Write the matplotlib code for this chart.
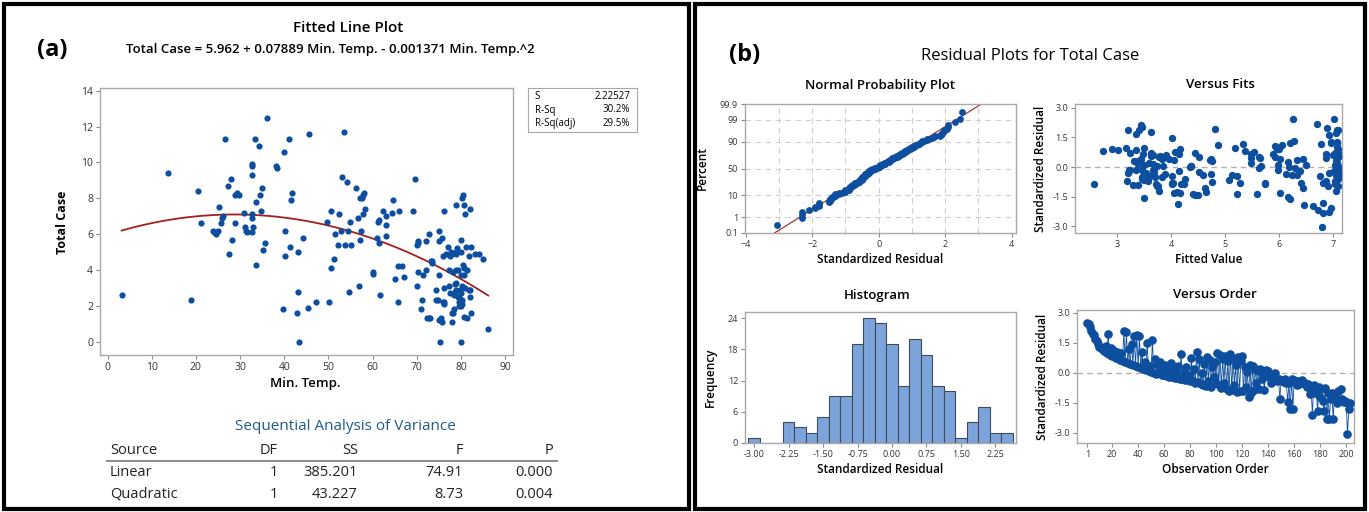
import math
import numpy as np
import matplotlib.pyplot as plt
from matplotlib.patches import Rectangle

plt.rcParams['font.family'] = ['Open Sans', 'DejaVu Sans']

W, H = 1369, 512

# fitted model (from the chart)
B0, B1, B2 = 5.962, 0.07889, -0.001371
S_VAL = 2.22527

# scatter data: Min. Temp. vs Total Case
min_temp = [
    3.2, 13.7, 18.9, 20.4, 21.2, 23.8, 24.2, 24.6, 25.0, 25.2, 25.6, 25.9, 26.2, 26.5, 27.2,
    27.5, 27.9, 28.1, 28.8, 28.9, 29.4, 29.8, 31.0, 31.2, 31.3, 31.5, 32.6, 32.8, 32.7, 32.8,
    32.8, 32.9, 32.7, 33.3, 33.6, 33.6, 34.3, 34.6, 34.9, 34.8, 35.3, 35.6, 36.2, 38.2, 38.4,
    39.9, 40.1, 40.2, 39.8, 41.0, 41.3, 41.6, 41.8, 43.1, 43.0, 43.1, 43.3, 44.3,
    45.3, 45.6, 47.1, 49.6, 50.2, 50.5, 50.6, 51.2, 51.4, 52.2, 52.4, 52.9, 53.1, 53.5, 53.7,
    54.3, 54.5, 54.7, 54.9, 55.2, 56.3, 56.8, 56.9, 57.1, 57.2, 57.3, 57.6, 57.8, 58.0, 57.9,
    58.4, 60.1, 60.1, 61.0, 61.2, 61.4, 61.4, 61.8, 62.4, 63.0, 63.0, 63.0, 64.3, 64.6, 65.1,
    65.8, 66.1, 65.8, 66.7, 67.2, 69.1, 69.6,
    70.1, 70.2, 70.2, 70.0, 71.0, 71.2, 71.5, 72.1, 72.2, 72.3, 72.7, 73.1, 72.8, 73.3, 73.5,
    74.3, 74.8, 75.0, 75.1, 75.1, 75.3, 75.0, 75.4, 75.8, 75.7, 75.9, 76.1, 76.2, 76.2, 76.2,
    76.6, 77.0, 77.2, 77.4, 77.8, 78.0, 78.2, 78.4, 78.5, 78.7, 78.8, 78.6, 78.8, 79.0, 79.1,
    79.3, 79.5, 79.6, 79.5, 79.7, 80.0, 80.0, 80.2, 80.4, 80.1, 80.3, 80.3, 80.3, 80.6, 80.8,
    80.8, 81.0, 81.1, 81.3, 81.4, 81.8, 82.0, 82.1, 82.2, 82.3, 82.1, 83.3, 84.0, 85.1, 86.2,
    77.5, 78.0, 78.8, 79.0, 80.4, 78.2, 78.8, 80.0, 81.8, 77.5, 79.4, 80.0, 78.1, 80.8, 74.4,
    76.0, 70.4, 73.4, 80.0, 81.0,
]
total_case = [
    2.6, 9.4, 2.3, 8.4, 6.6, 6.2, 6.1, 6.0, 6.2, 7.5, 6.6, 6.9, 7.0, 11.3, 8.7,
    4.9, 9.1, 5.7, 6.6, 8.2, 8.3, 8.2, 7.2, 6.4, 6.2, 6.1, 9.9, 9.8, 9.3, 7.1,
    6.9, 6.4, 6.1, 11.3, 7.8, 4.3, 10.9, 8.2, 8.6, 7.3, 5.1, 5.5, 12.5, 9.8, 9.7,
    10.6, 6.2, 4.8, 1.8, 11.3, 5.3, 7.9, 8.3, 5.0, 1.6, 2.8, 0.0, 5.8,
    1.9, 11.6, 2.2, 6.7, 2.2, 7.3, 4.1, 4.6, 6.0, 5.4, 7.1, 6.2, 9.2, 11.7, 5.4,
    8.9, 6.2, 2.8, 6.7, 5.4, 8.6, 6.9, 3.1, 8.0, 5.7, 6.2, 8.0, 8.2, 8.3, 7.1,
    7.4, 3.8, 3.9, 5.8, 6.7, 6.8, 5.5, 2.6, 7.3, 7.0, 6.5, 5.9, 7.2, 7.9, 3.5,
    2.2, 7.3, 4.2, 4.2, 3.6, 7.3, 9.1,
    5.4, 5.6, 3.9, 3.1, 1.8, 2.3, 3.7, 4.0, 5.6, 1.3, 1.3, 1.3, 6.0, 4.5, 4.4,
    2.9, 2.3, 6.2, 5.6, 3.7, 0.0, 1.2, 1.3, 1.1, 5.8, 4.8, 7.3, 2.2, 2.1, 3.0,
    4.9, 5.3, 3.1, 4.0, 5.0, 1.1, 1.6, 1.8, 2.6, 2.8, 2.9, 3.2, 3.3, 7.6, 5.2,
    4.0, 2.0, 2.5, 2.2, 2.9, 5.7, 0.0, 8.0, 8.2, 5.0, 3.1, 2.1, 2.3, 7.6, 3.7,
    4.1, 7.1, 5.3, 4.0, 1.3, 4.8, 2.9, 7.4, 1.6, 5.3, 2.5, 4.9, 4.9, 4.6, 0.7,
    4.8, 4.9, 5.0, 4.9, 4.3, 3.9, 4.0, 3.7, 2.9, 2.7, 2.5, 2.0, 1.6, 1.4, 2.3,
    2.2, 5.5, 4.5, 2.7, 3.0,
]

# standardized residuals in observation order
resid_order = [
    2.5, 2.45, 2.3, 2.1, 1.95, 1.9, 1.7, 1.6, 1.45, 1.3,
    1.3, 1.2, 1.25, 1.1, 1.35, 1.0, 1.95, 0.9, 1.25, 0.85,
    1.15, 0.8, 0.75, 1.05, 0.7, 0.65, 1.0, 0.6, 2.1, 0.55,
    2.05, 0.5, 1.2, 0.45, 1.45, 0.4, 1.85, 0.35, 1.9, 0.3,
    1.85, 0.25, 1.05, 0.2, 0.55, 0.15, 1.5, 0.1, 0.35, 0.05,
    1.65, 0.0, 0.7, -0.05, 0.4, 0.0, 0.55, -0.1, 0.25, -0.1,
    0.4, -0.15, 0.1, -0.2, 0.5, -0.2, 0.2, -0.25, 0.0, -0.25,
    0.35, -0.3, 0.95, -0.3, 0.05, -0.35, 0.3, -0.35, -0.1, -0.4,
    0.75, -0.4, 0.2, -0.5, 1.05, -0.45, 0.7, -0.55, 0.0, -0.6,
    0.45, -0.65, 0.8, -0.4, 0.65, -0.7, 0.3, -0.2, 0.55, -0.5,
    1.0, -0.6, 0.9, -0.75, 0.7, -0.5, 0.85, -0.8, 0.6, -0.9,
    0.95, -0.85, 0.75, -0.6, 0.4, -0.95, 0.8, -0.9, 0.6, 0.85,
    -0.9, 0.3, -0.7, 0.05, -1.2, 0.4, -1.0, 0.35, -0.85, 0.2,
    -0.5, 0.1, -0.8, 0.2, -0.3, 0.0, -0.85, 0.15, -0.1, 0.1,
    -0.2, -0.5, -0.25, -0.3, 0.0, -0.35, -0.4, -0.3, -1.3, -0.35,
    -0.4, -0.45, -0.3, -0.5, -1.45, -0.5, -1.8, -0.3, -1.8, -0.35,
    -0.45, -0.6, -0.4, -0.55, -0.5, -0.35, -0.45, -0.5, -0.6, -0.7,
    -0.55, -1.05, -0.7, -2.1, -0.6, -1.0, -0.85, -1.9, -0.7, -1.2,
    -0.8, -1.4, -1.9, -0.75, -2.3, -1.0, -2.3, -1.3, -1.0, -2.3,
    -1.1, -1.3, -1.5, -0.9, -1.4, -0.8, -1.3, -1.45, -1.4, -1.45,
    -3.05, -1.8, -1.5,
]

# histogram of standardized residuals
hist_bins = [-3.00, -2.75, -2.50, -2.25, -2.00, -1.75, -1.50, -1.25, -1.00, -0.75, -0.50, -0.25,
             0.00, 0.25, 0.50, 0.75, 1.00, 1.25, 1.50, 1.75, 2.00, 2.25, 2.50]
hist_counts = [1, 0, 0, 4, 3, 2, 5, 9, 9, 19, 24, 23, 19, 11, 20, 17, 11, 10, 1, 4, 7, 2, 2]

# stats box and anova table
stats_names = ['S', 'R-Sq', 'R-Sq(adj)']
stats_vals = ['2.22527', '30.2%', '29.5%']
anova_header = ['Source', 'DF', 'SS', 'F', 'P']
anova_rows = [['Linear', '1', '385.201', '74.91', '0.000'],
              ['Quadratic', '1', '43.227', '8.73', '0.004']]

BLUE = '#0d4f9e'
RED = '#a3201e'
FRAME = '#a9a9a9'


def px(x0, y0, x1, y1):
    return [x0 / W, 1 - y1 / H, (x1 - x0) / W, (y1 - y0) / H]


def ftext(x, y, s, **kw):
    kw.setdefault('ha', 'center')
    kw.setdefault('va', 'center')
    return fig.text(x / W, 1 - y / H, s, **kw)


def style(ax, fs=6.5):
    for sp in ax.spines.values():
        sp.set_color(FRAME)
        sp.set_linewidth(1.0)
    ax.tick_params(labelsize=fs, length=3, width=0.8, color='#8a8a8a', labelcolor='#333333', pad=2)


def norm_ppf(p):
    lo, hi = -10.0, 10.0
    for _ in range(80):
        mid = (lo + hi) / 2
        if 0.5 * (1 + math.erf(mid / math.sqrt(2))) < p:
            lo = mid
        else:
            hi = mid
    return (lo + hi) / 2


fig = plt.figure(figsize=(W / 100, H / 100), dpi=100)

# panel borders
fig.patches.append(Rectangle((4 / W, 1 - 509 / H), 685 / W, 505 / H, fill=False, lw=3,
                             ec='black', transform=fig.transFigure))
fig.patches.append(Rectangle((695 / W, 1 - 509 / H), 670 / W, 505 / H, fill=False, lw=3,
                             ec='black', transform=fig.transFigure))

# ---------------- (a) fitted line plot ----------------
ftext(52, 50, '(a)', fontsize=17, fontweight='bold')
ftext(348, 28, 'Fitted Line Plot', fontsize=11, fontweight='semibold')
ftext(330, 50, 'Total Case = 5.962 + 0.07889 Min. Temp. - 0.001371 Min. Temp.^2',
      fontsize=9.5, fontweight='semibold')

t = np.array(min_temp)
y = np.array(total_case)
ax1 = fig.add_axes(px(100, 88, 513, 355))
style(ax1, 7.5)
ax1.scatter(t, y, s=20, color=BLUE, zorder=3, linewidths=0)
tt = np.linspace(t.min(), t.max(), 200)
ax1.plot(tt, B0 + B1 * tt + B2 * tt ** 2, color=RED, lw=1.3, zorder=2)
ax1.set_xlim(-1.7, 91.8)
ax1.set_ylim(-0.74, 14.15)
ax1.set_xticks(range(0, 91, 10))
ax1.set_yticks(range(0, 15, 2))
ftext(62, 222, 'Total Case', fontsize=9, fontweight='bold', rotation=90)
ftext(305, 383, 'Min. Temp.', fontsize=9.5, fontweight='semibold')

axs = fig.add_axes(px(528, 88, 637, 132))
for sp in axs.spines.values():
    sp.set_color(FRAME)
axs.set_xticks([])
axs.set_yticks([])
for i, (n, v) in enumerate(zip(stats_names, stats_vals)):
    yy = 0.8 - i * 0.3
    axs.text(0.06, yy, n, fontsize=7, va='center', transform=axs.transAxes)
    axs.text(0.94, yy, v, fontsize=7, va='center', ha='right', transform=axs.transAxes)

# anova table
ftext(345, 426, 'Sequential Analysis of Variance', fontsize=11, color='#1f5b8a')
col_x = [110, 278, 358, 463, 553]
col_ha = ['left', 'right', 'right', 'right', 'right']
for s, x, ha in zip(anova_header, col_x, col_ha):
    ftext(x, 451, s, fontsize=10.5, ha=ha, color='#222222')
fig.add_artist(plt.Line2D([107 / W, 557 / W], [1 - 461 / H, 1 - 461 / H], color='#777777', lw=1.2))
for r, yy in zip(anova_rows, [473, 494]):
    for s, x, ha in zip(r, col_x, col_ha):
        ftext(x, yy, s, fontsize=10.5, ha=ha, color='#222222')

# ---------------- (b) residual plots ----------------
ftext(745, 55, '(b)', fontsize=17, fontweight='bold')
ftext(1030, 56, 'Residual Plots for Total Case', fontsize=12)
ftext(880, 85, 'Normal Probability Plot', fontsize=9.5, fontweight='semibold')
ftext(1220, 85, 'Versus Fits', fontsize=9.5, fontweight='semibold')
ftext(877, 295, 'Histogram', fontsize=9.5, fontweight='semibold')
ftext(1215, 295, 'Versus Order', fontsize=9.5, fontweight='semibold')

lab_kw = dict(fontsize=8.5, fontweight='semibold')

# normal probability plot
r_sorted = np.sort(np.array(resid_order))
n = len(r_sorted)
z = np.array([norm_ppf((i + 1 - 0.3) / (n + 0.4)) for i in range(n)])
ax2 = fig.add_axes(px(745, 104, 1016, 233))
style(ax2)
pct_ticks = [0.1, 1, 10, 50, 90, 99, 99.9]
zt = [norm_ppf(p / 100) for p in pct_ticks]
for v in zt[1:-1]:
    ax2.axhline(v, color='#cfcfcf', lw=0.8, ls=(0, (5, 4)), zorder=0)
for v in range(-3, 4):
    ax2.axvline(v, color='#cfcfcf', lw=0.8, ls=(0, (5, 4)), zorder=0)
mu, sd = r_sorted.mean(), r_sorted.std()
ax2.plot([mu + sd * zt[0], mu + sd * zt[-1]], [zt[0], zt[-1]], color=RED, lw=0.8, zorder=2)
ax2.scatter(r_sorted, z, s=24, color=BLUE, zorder=3, linewidths=0)
ax2.set_xlim(-4.02, 4.13)
ax2.set_ylim(zt[0], zt[-1])
ax2.set_yticks(zt)
ax2.set_yticklabels(['0.1', '1', '10', '50', '90', '99', '99.9'])
ax2.set_xticks([-4, -2, 0, 2, 4])
ax2.set_xlabel('Standardized Residual', labelpad=3, **lab_kw)
ax2.set_ylabel('Percent', labelpad=8, **lab_kw)

# versus fits
fits = B0 + B1 * t + B2 * t ** 2
std_res = (y - fits) / S_VAL
ax3 = fig.add_axes(px(1075, 104, 1342, 233))
style(ax3)
ax3.axhline(0, color='#b0b0b0', lw=1.0, ls=(0, (4, 3)), zorder=0)
ax3.scatter(fits, std_res, s=28, color=BLUE, zorder=3, linewidths=0)
ax3.set_xlim(2.22, 7.17)
ax3.set_ylim(-3.35, 3.2)
ax3.set_xticks([3, 4, 5, 6, 7])
ax3.set_yticks([-3.0, -1.5, 0.0, 1.5, 3.0])
ax3.set_yticklabels(['-3.0', '-1.5', '0.0', '1.5', '3.0'])
ax3.set_xlabel('Fitted Value', labelpad=3, **lab_kw)
ax3.set_ylabel('Standardized Residual', labelpad=4, **lab_kw)

# histogram
ax4 = fig.add_axes(px(745, 312, 1016, 443))
style(ax4)
ax4.bar(hist_bins, hist_counts, width=0.25, color='#7da4da', edgecolor='#3d4a5c', lw=0.8, zorder=2)
ax4.set_xlim(-3.2, 2.7)
ax4.set_ylim(0, 25.2)
ax4.set_xticks([-3.0, -2.25, -1.5, -0.75, 0.0, 0.75, 1.5, 2.25])
ax4.set_xticklabels(['-3.00', '-2.25', '-1.50', '-0.75', '0.00', '0.75', '1.50', '2.25'])
ax4.set_yticks([0, 6, 12, 18, 24])
ax4.set_xlabel('Standardized Residual', labelpad=3, **lab_kw)
ax4.set_ylabel('Frequency', labelpad=8, **lab_kw)

# versus order
obs = np.arange(1, len(resid_order) + 1)
ax5 = fig.add_axes(px(1077, 310, 1354, 443))
style(ax5)
ax5.axhline(0, color='#b0b0b0', lw=1.0, ls=(0, (4, 3)), zorder=0)
ax5.plot(obs, resid_order, color=BLUE, lw=0.6, marker='o', ms=5.2, mec=BLUE, mfc=BLUE, zorder=3)
ax5.set_xlim(-7, 206)
ax5.set_ylim(-3.5, 3.15)
ax5.set_xticks([1] + list(range(20, 201, 20)))
ax5.set_yticks([-3.0, -1.5, 0.0, 1.5, 3.0])
ax5.set_yticklabels(['-3.0', '-1.5', '0.0', '1.5', '3.0'])
ax5.set_xlabel('Observation Order', labelpad=3, **lab_kw)
ax5.set_ylabel('Standardized Residual', labelpad=4, **lab_kw)

fig.savefig('out.png', dpi=100)
